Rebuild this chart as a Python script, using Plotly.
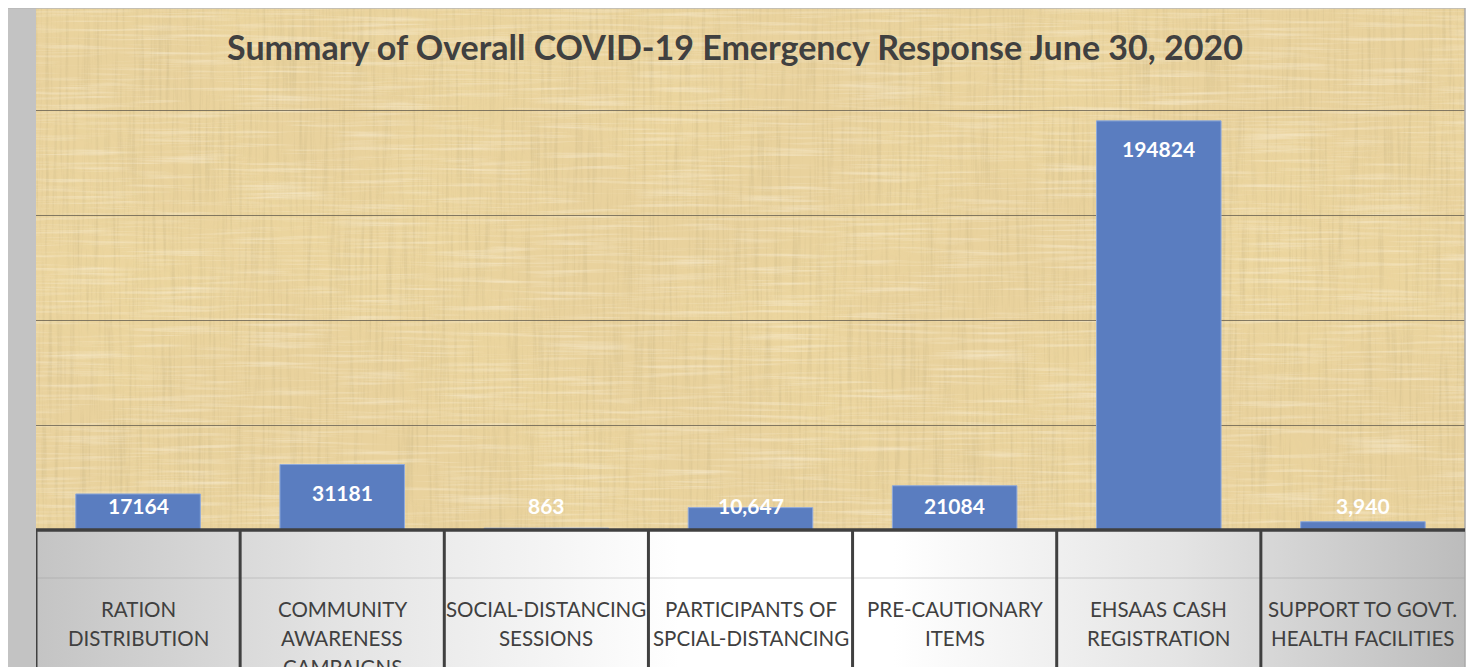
import base64
import plotly.graph_objects as go

# data
categories = ["RATION DISTRIBUTION", "COMMUNITY AWARENESS CAMPAIGNS",
              "SOCIAL-DISTANCING SESSIONS", "PARTICIPANTS OF SPCIAL-DISTANCING",
              "PRE-CAUTIONARY ITEMS", "EHSAAS CASH REGISTRATION",
              "SUPPORT TO GOVT. HEALTH FACILITIES"]
tick_labels = [["RATION", "DISTRIBUTION"], ["COMMUNITY", "AWARENESS", "CAMPAIGNS"],
               ["SOCIAL-DISTANCING", "SESSIONS"], ["PARTICIPANTS OF", "SPCIAL-DISTANCING"],
               ["PRE-CAUTIONARY", "ITEMS"], ["EHSAAS CASH", "REGISTRATION"],
               ["SUPPORT TO GOVT.", "HEALTH FACILITIES"]]
values = [17164, 31181, 863, 10647, 21084, 194824, 3940]
value_labels = ["17164", "31181", "863", "10,647", "21084", "194824", "3,940"]

# the page puts the figure 8px in from the top-left corner
W, H = 1475, 667
L, R, T, B = 28, 18, 0, 145
PH = H - T - B          # plot height in px
PW = W - L - R
YMAX = PH / 105 * 50000  # 50 000 per 105 px, as in the reference


def svg_uri(svg):
    return "data:image/svg+xml;base64," + base64.b64encode(svg.encode()).decode()


# papyrus-like texture for the plot area
papyrus = f"""<svg xmlns='http://www.w3.org/2000/svg' width='{PW}' height='{PH}' viewBox='0 0 {PW} {PH}' preserveAspectRatio='none'>
<filter id='v' x='0' y='0' width='100%' height='100%'>
<feTurbulence type='fractalNoise' baseFrequency='0.3 0.01' numOctaves='3' seed='4'/>
<feColorMatrix values='0 0 0 0 0.60  0 0 0 0 0.48  0 0 0 0 0.24  1.8 0 0 0 -0.85'/></filter>
<filter id='h' x='0' y='0' width='100%' height='100%'>
<feTurbulence type='fractalNoise' baseFrequency='0.01 0.3' numOctaves='3' seed='9'/>
<feColorMatrix values='0 0 0 0 1  0 0 0 0 0.95  0 0 0 0 0.84  1.8 0 0 0 -0.85'/></filter>
<filter id='b' x='0' y='0' width='100%' height='100%'>
<feTurbulence type='fractalNoise' baseFrequency='0.006 0.006' numOctaves='2' seed='2'/>
<feColorMatrix values='0 0 0 0 0.88  0 0 0 0 0.72  0 0 0 0 0.36  1.4 0 0 0 -0.5'/></filter>
<rect width='100%' height='100%' fill='#E9D29D'/>
<rect width='100%' height='100%' filter='url(#b)' opacity='0.5'/>
<rect width='100%' height='100%' filter='url(#v)' opacity='0.6'/>
<rect width='100%' height='100%' filter='url(#h)' opacity='0.55'/>
</svg>"""

# grey gradient behind the category table
table_bg = f"""<svg xmlns='http://www.w3.org/2000/svg' width='{PW}' height='{B}' viewBox='0 0 {PW} {B}' preserveAspectRatio='none'>
<linearGradient id='g' x1='0' y1='0' x2='1' y2='0'>
<stop offset='0' stop-color='#c4c4c4'/><stop offset='0.2' stop-color='#e2e2e2'/>
<stop offset='0.45' stop-color='#ffffff'/><stop offset='0.6' stop-color='#ffffff'/>
<stop offset='0.8' stop-color='#e4e4e4'/><stop offset='1' stop-color='#bcbcbc'/></linearGradient>
<rect width='100%' height='100%' fill='url(#g)'/></svg>"""

fig = go.Figure(go.Bar(
    x=categories, y=values, width=0.61,
    marker=dict(color="#5A7DC0", line=dict(color="#8EA9DB", width=1)),
    hoverinfo="x+y",
))

# value labels, kept inside the bar top but not lower than the baseline band
for c, v, t in zip(categories, values, value_labels):
    fig.add_annotation(x=c, y=max(v, 25000), text=f"<b>{t}</b>", showarrow=False,
                       yanchor="middle", yshift=-28,
                       font=dict(family="Lato", size=21, color="white"))

# category labels inside the table cells, one line per annotation
for c, lines in zip(categories, tick_labels):
    for k, line in enumerate(lines):
        fig.add_annotation(x=c, y=0, yref="paper", text=line, showarrow=False,
                           yanchor="middle", yshift=-79 - 29 * k,
                           font=dict(family="Lato", size=20.5, color="#404040"))

pb = -B / PH  # bottom of the figure in paper units
shapes = [
    # faint line across the table
    dict(type="line", xref="paper", yref="paper", x0=0, x1=1, y0=-48 / PH, y1=-48 / PH,
         line=dict(color="rgba(150,150,150,0.4)", width=1)),
    # left grey strip of the page
    dict(type="rect", xref="paper", yref="paper", x0=-L / PW, x1=0, y0=pb, y1=1,
         fillcolor="#c3c3c3", line_width=0, layer="below"),
    # top rule
    dict(type="line", xref="paper", yref="paper", x0=-L / PW, x1=1, y0=1, y1=1,
         line=dict(color="#b8b8b8", width=1.5)),
    # right edge
    dict(type="line", xref="paper", yref="paper", x0=1, x1=1, y0=pb, y1=1,
         line=dict(color="#a8a8a8", width=1.5)),
]
# table cell borders
for i in range(len(categories)):
    shapes.append(dict(type="line", xref="x", yref="paper", x0=i - 0.5, x1=i - 0.5,
                       y0=pb, y1=0, line=dict(color="#404040", width=3)))
shapes.append(dict(type="line", xref="paper", yref="paper", x0=0, x1=1, y0=0, y1=0,
                   line=dict(color="#404040", width=3.5)))

fig.update_layout(
    width=W, height=H,
    margin=dict(l=L, r=R, t=T, b=B),
    paper_bgcolor="white",
    plot_bgcolor="rgba(0,0,0,0)",
    title=dict(text="<b>Summary of Overall COVID-19 Emergency Response June 30, 2020</b>",
               x=727 / W, xanchor="center", y=1 - 40 / H, yanchor="middle",
               font=dict(family="Lato", size=34, color="#404040")),
    xaxis=dict(showticklabels=False, showgrid=False, zeroline=False,
               range=[-0.5, len(categories) - 0.5], fixedrange=True),
    yaxis=dict(range=[0, YMAX], dtick=50000, showticklabels=False,
               showgrid=True, gridcolor="rgba(95,88,75,0.75)", gridwidth=1,
               zeroline=False, fixedrange=True),
    images=[
        dict(source=svg_uri(papyrus), xref="paper", yref="paper", x=0, y=1,
             sizex=1, sizey=1, sizing="stretch", layer="below",
             xanchor="left", yanchor="top"),
        dict(source=svg_uri(table_bg), xref="paper", yref="paper", x=0, y=0,
             sizex=1, sizey=B / PH, sizing="stretch", layer="below",
             xanchor="left", yanchor="top"),
    ],
    shapes=shapes,
    showlegend=False,
    bargap=0.39,
)

fig.write_html("out.html")
